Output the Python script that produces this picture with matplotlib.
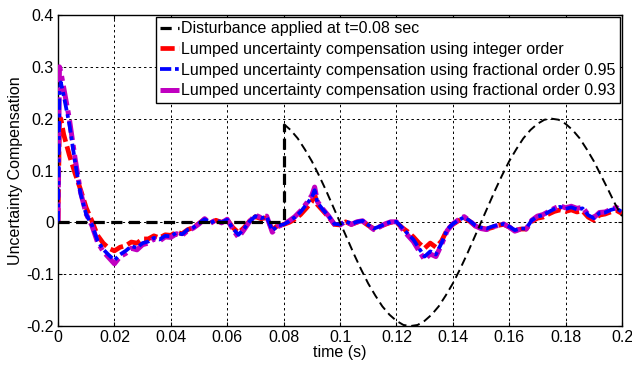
import numpy as np
import matplotlib.pyplot as plt

plt.rcParams['font.family'] = ['Liberation Sans', 'DejaVu Sans']

# disturbance (black dashed)
t_dist = [0, 0.08, 0.08, 0.0825, 0.085, 0.0875, 0.09, 0.0925, 0.095, 0.0975,
          0.1, 0.1025, 0.105, 0.1075, 0.11, 0.1125, 0.115, 0.1175, 0.12,
          0.1225, 0.125, 0.1275, 0.13, 0.1325, 0.135, 0.1375, 0.14, 0.1425,
          0.145, 0.1475, 0.15, 0.1525, 0.155, 0.1575, 0.16, 0.1625, 0.165,
          0.1675, 0.17, 0.1725, 0.175, 0.1775, 0.18, 0.1825, 0.185, 0.1875,
          0.19, 0.1925, 0.195, 0.1975, 0.2]
d_vals = [0, 0, 0.19, 0.178, 0.162, 0.141, 0.118, 0.091, 0.062, 0.031,
          0.0, -0.031, -0.062, -0.091, -0.118, -0.141, -0.162, -0.178, -0.19,
          -0.198, -0.2, -0.198, -0.19, -0.178, -0.162, -0.141, -0.118, -0.091,
          -0.062, -0.031, 0.0, 0.031, 0.062, 0.091, 0.118, 0.141, 0.162,
          0.178, 0.19, 0.198, 0.2, 0.198, 0.19, 0.178, 0.162, 0.141,
          0.118, 0.091, 0.064, 0.036, 0.012]

# lumped uncertainty compensation
t_comp = [0, 0.0005, 0.001, 0.002, 0.004, 0.006, 0.008, 0.010, 0.012, 0.014,
          0.016, 0.018, 0.020, 0.022, 0.024, 0.026, 0.028, 0.030, 0.032, 0.034,
          0.036, 0.038, 0.040, 0.042, 0.044, 0.046, 0.048, 0.050, 0.052, 0.054,
          0.056, 0.058, 0.060, 0.062, 0.064, 0.066, 0.068, 0.070, 0.072, 0.074,
          0.076, 0.078, 0.080, 0.082, 0.084, 0.086, 0.088, 0.090, 0.091, 0.092,
          0.094, 0.096, 0.098, 0.100, 0.102, 0.104, 0.106, 0.108, 0.110, 0.112,
          0.114, 0.116, 0.118, 0.120, 0.122, 0.124, 0.126, 0.128, 0.130, 0.132,
          0.134, 0.136, 0.138, 0.140, 0.142, 0.144, 0.146, 0.148, 0.150, 0.152,
          0.154, 0.156, 0.158, 0.160, 0.162, 0.164, 0.166, 0.168, 0.170, 0.172,
          0.174, 0.176, 0.178, 0.180, 0.182, 0.184, 0.186, 0.188, 0.190, 0.192,
          0.194, 0.196, 0.198, 0.200]

u_integer = [0, 0.19, 0.20, 0.17, 0.13, 0.095, 0.063, 0.028, 0.003, -0.025,
             -0.040, -0.050, -0.055, -0.048, -0.045, -0.038, -0.040, -0.032, -0.032, -0.026,
             -0.030, -0.024, -0.025, -0.019, -0.022, -0.014, -0.010, -0.002, 0.006, -0.001,
             0.004, 0.000, 0.005, -0.010, -0.020, -0.010, 0.003, 0.011, 0.007, 0.009,
             -0.014, -0.006, -0.004, 0.000, 0.006, 0.015, 0.027, 0.040, 0.054, 0.034,
             0.022, 0.010, -0.004, -0.005, 0.001, -0.004, 0.000, 0.002, -0.006, -0.012,
             -0.008, -0.004, 0.000, 0.000, -0.010, -0.018, -0.028, -0.040, -0.050, -0.040,
             -0.048, -0.036, -0.014, -0.004, 0.003, 0.009, 0.002, -0.007, -0.011, -0.013,
             -0.010, -0.006, -0.004, -0.009, -0.016, -0.013, -0.013, 0.002, 0.008, 0.010,
             0.016, 0.021, 0.024, 0.021, 0.024, 0.020, 0.022, 0.010, 0.004, 0.014,
             0.016, 0.020, 0.023, 0.017]

u_frac95 = [0, 0.25, 0.27, 0.245, 0.19, 0.118, 0.055, 0.015, -0.005, -0.035,
            -0.052, -0.063, -0.073, -0.062, -0.055, -0.046, -0.049, -0.040, -0.037, -0.030,
            -0.033, -0.026, -0.027, -0.020, -0.023, -0.014, -0.010, -0.002, 0.006, -0.001,
            0.004, 0.000, 0.005, -0.012, -0.024, -0.012, 0.002, 0.012, 0.008, 0.011,
            -0.016, -0.006, -0.004, 0.002, 0.010, 0.020, 0.034, 0.048, 0.062, 0.038,
            0.024, 0.012, -0.003, -0.004, 0.002, -0.003, 0.001, 0.003, -0.005, -0.012,
            -0.008, -0.003, 0.001, 0.001, -0.010, -0.022, -0.033, -0.050, -0.066, -0.056,
            -0.062, -0.040, -0.014, -0.003, 0.004, 0.010, 0.003, -0.006, -0.010, -0.012,
            -0.008, -0.005, -0.003, -0.008, -0.015, -0.012, -0.012, 0.004, 0.011, 0.014,
            0.020, 0.026, 0.030, 0.026, 0.029, 0.025, 0.027, 0.014, 0.008, 0.018,
            0.019, 0.024, 0.027, 0.020]

u_frac93 = [0, 0.30, 0.29, 0.26, 0.20, 0.125, 0.058, 0.016, -0.006, -0.038,
            -0.056, -0.068, -0.080, -0.066, -0.060, -0.050, -0.053, -0.043, -0.040, -0.032,
            -0.036, -0.028, -0.029, -0.022, -0.025, -0.016, -0.011, -0.003, 0.007, -0.002,
            0.005, -0.001, 0.006, -0.014, -0.029, -0.014, 0.002, 0.014, 0.009, 0.012,
            -0.019, -0.008, -0.004, 0.003, 0.011, 0.022, 0.036, 0.052, 0.068, 0.040,
            0.025, 0.012, -0.004, -0.005, 0.002, -0.004, 0.001, 0.003, -0.006, -0.014,
            -0.009, -0.003, 0.001, 0.001, -0.012, -0.025, -0.037, -0.055, -0.072, -0.061,
            -0.066, -0.043, -0.016, -0.003, 0.005, 0.011, 0.003, -0.007, -0.012, -0.014,
            -0.009, -0.006, -0.003, -0.009, -0.017, -0.013, -0.013, 0.004, 0.012, 0.015,
            0.021, 0.027, 0.032, 0.028, 0.031, 0.027, 0.029, 0.015, 0.009, 0.019,
            0.020, 0.025, 0.029, 0.021]

labels = ['Disturbance applied at t=0.08 sec',
          'Lumped uncertainty compensation using integer order',
          'Lumped uncertainty compensation using fractional order 0.95',
          'Lumped uncertainty compensation using fractional order 0.93']

fig = plt.figure(figsize=(6.32, 3.65), dpi=100)
ax = fig.add_axes([0.0918, 0.1068, 0.8924, 0.8521])

# flat part + step drawn heavier, sine part lighter (as in the original)
ax.plot(t_dist[:3], d_vals[:3], color='black', ls=(0, (3.5, 2)), lw=2.3,
        label=labels[0], zorder=5)
ax.plot(t_dist[2:], d_vals[2:], color='black', ls=(0, (4.5, 2.5)), lw=1.4, zorder=5)
ax.plot(t_comp, u_integer, color='red', ls=(0, (3, 1)), lw=3.4, label=labels[1], zorder=2)
ax.plot(t_comp, u_frac93, color='#c000c0', ls=(0, (4, 1, 1, 1)), lw=3.6, label=labels[3], zorder=3)
ax.plot(t_comp, u_frac95, color='blue', ls=(0, (3, 1, 1, 1)), lw=2.7, label=labels[2], zorder=4)

ax.set_xlim(0, 0.2)
ax.set_ylim(-0.2, 0.4)
ax.set_xticks(np.arange(0, 0.21, 0.02))
ax.set_xticklabels(['0', '0.02', '0.04', '0.06', '0.08', '0.1', '0.12', '0.14',
                    '0.16', '0.18', '0.2'])
ax.set_yticks([-0.2, -0.1, 0, 0.1, 0.2, 0.3, 0.4])
ax.set_yticklabels(['-0.2', '-0.1', '0', '0.1', '0.2', '0.3', '0.4'])
ax.tick_params(direction='in', top=True, right=True, labelsize=11.5, length=3, pad=3)
ax.grid(True, color='black', ls=(0, (2.5, 3)), lw=0.7)
for s in ax.spines.values():
    s.set_linewidth(1.0)

ax.set_xlabel('time (s)', fontsize=11.5, labelpad=0)
ax.set_ylabel('Uncertainty Compensation', fontsize=11.5, labelpad=2)

h, l = ax.get_legend_handles_labels()
order = [0, 1, 3, 2]
leg = ax.legend([h[i] for i in order], [l[i] for i in order], loc='upper right',
                fontsize=11.5, fancybox=False, edgecolor='black', framealpha=1,
                handlelength=1.15, handletextpad=0.15, borderpad=0.3,
                labelspacing=0.35, borderaxespad=0.1)
leg.get_frame().set_linewidth(1.0)

fig.savefig('out.png', dpi=100)
